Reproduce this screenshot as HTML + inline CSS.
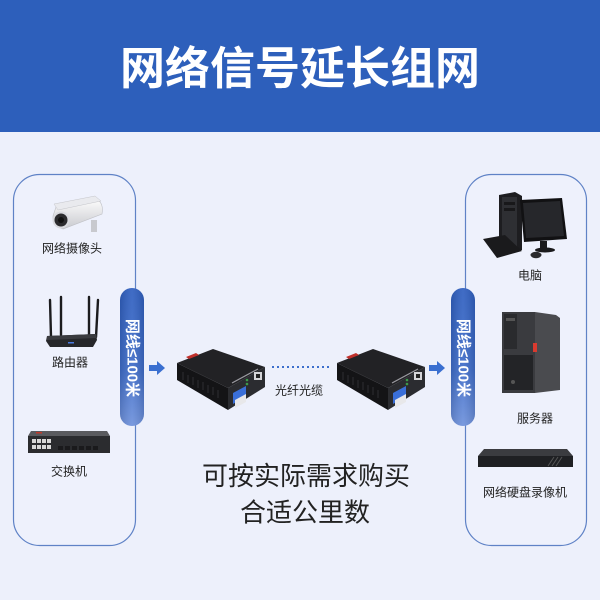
<!DOCTYPE html>
<html><head><meta charset="utf-8"><style>
html,body{margin:0;padding:0;background:#edf0fb;}
svg{display:block;}
text{font-family:"Liberation Sans","Noto Sans CJK SC",sans-serif;}
</style></head><body>
<svg width="600" height="600" viewBox="0 0 600 600" xmlns="http://www.w3.org/2000/svg">
<defs>
<linearGradient id="pill" x1="0" y1="0" x2="0" y2="1">
<stop offset="0" stop-color="#2f5fc0"/><stop offset="0.6" stop-color="#3f6dc9"/><stop offset="1" stop-color="#6f92dc"/>
</linearGradient>
<linearGradient id="pillh" x1="0" y1="0" x2="1" y2="0">
<stop offset="0" stop-color="#000" stop-opacity="0.12"/><stop offset="0.5" stop-color="#fff" stop-opacity="0.08"/><stop offset="1" stop-color="#000" stop-opacity="0.12"/>
</linearGradient>
<linearGradient id="cam" x1="0" y1="0" x2="0" y2="1">
<stop offset="0" stop-color="#fdfdfd"/><stop offset="1" stop-color="#c9cacf"/>
</linearGradient>
</defs>
<rect x="0" y="0" width="600" height="600" fill="#edf0fb"/>
<rect x="0" y="0" width="600" height="132" fill="#2d5fbb"/>
<text x="300" y="84" font-size="45" font-weight="bold" fill="#fff" text-anchor="middle">网络信号延长组网</text>

<!-- boxes -->
<rect x="13.5" y="174.5" width="122" height="371" rx="26" fill="#eef1fc" stroke="#5f82c6" stroke-width="1.2"/>
<rect x="465.5" y="174.5" width="121" height="371" rx="26" fill="#eef1fc" stroke="#5f82c6" stroke-width="1.2"/>

<!-- pills -->
<rect x="120" y="288" width="24" height="138" rx="12" fill="url(#pill)"/>
<rect x="120" y="288" width="24" height="138" rx="12" fill="url(#pillh)"/>
<text transform="translate(132 358) rotate(90)" font-size="15" font-weight="bold" fill="#fff" text-anchor="middle" dominant-baseline="central">网线≤100米</text>
<rect x="451" y="288" width="24" height="138" rx="12" fill="url(#pill)"/>
<rect x="451" y="288" width="24" height="138" rx="12" fill="url(#pillh)"/>
<text transform="translate(463 358) rotate(90)" font-size="15" font-weight="bold" fill="#fff" text-anchor="middle" dominant-baseline="central">网线≤100米</text>

<!-- arrows -->
<rect x="149" y="365" width="9" height="6" fill="#3a6fd0"/>
<polygon points="157,361 165,368 157,375" fill="#3a6fd0"/>
<rect x="429" y="365" width="9" height="6" fill="#3a6fd0"/>
<polygon points="437,361 445,368 437,375" fill="#3a6fd0"/>

<!-- camera -->
<path d="M56,207 L97,199 Q104,204 102,214 L63,229 Q52,226 53,216 Z" fill="url(#cam)" stroke="#bfc0c5" stroke-width="0.6"/>
<path d="M54,204 L95,196 L101,201 L58,210 Z" fill="#e9eaee" stroke="#c4c5ca" stroke-width="0.5"/>
<rect x="91" y="220" width="6" height="12" fill="#c8c9ce"/>
<circle cx="61" cy="220" r="8.5" fill="#d9dadf"/>
<circle cx="61" cy="220" r="6.5" fill="#2b2b2e"/>
<circle cx="61" cy="220" r="3" fill="#111"/>
<text x="72" y="252.5" font-size="12" fill="#222" text-anchor="middle">网络摄像头</text>

<!-- router -->
<g stroke="#1c1c1e" stroke-width="2.4" stroke-linecap="round">
<line x1="50" y1="300" x2="51" y2="337"/>
<line x1="61" y1="297" x2="61" y2="335"/>
<line x1="89" y1="297" x2="89" y2="335"/>
<line x1="98" y1="300" x2="96" y2="337"/>
</g>
<path d="M47,336 L96,334 L97,340 L93,347 L50,347 L46,341 Z" fill="#26272a"/>
<path d="M47,336 L96,334 L97,338 L47,340 Z" fill="#3a3b3f"/>
<rect x="68" y="342" width="6" height="1.5" fill="#4a7be0"/>
<text x="70" y="366.5" font-size="12" fill="#222" text-anchor="middle">路由器</text>

<!-- switch -->
<polygon points="31,431 107,431 110,436 28,436" fill="#5a5b5f"/>
<rect x="28" y="436" width="82" height="17" fill="#2b2c2f"/>
<rect x="36" y="432" width="6" height="1.5" fill="#c0392b"/>
<g fill="#d8d8d8">
<rect x="32" y="439" width="4" height="4"/><rect x="37" y="439" width="4" height="4"/><rect x="42" y="439" width="4" height="4"/><rect x="47" y="439" width="4" height="4"/>
<rect x="32" y="445" width="4" height="4"/><rect x="37" y="445" width="4" height="4"/><rect x="42" y="445" width="4" height="4"/><rect x="47" y="445" width="4" height="4"/>
</g>
<g fill="#1a1a1c">
<rect x="58" y="446" width="5" height="4"/><rect x="65" y="446" width="5" height="4"/><rect x="72" y="446" width="5" height="4"/><rect x="79" y="446" width="5" height="4"/><rect x="86" y="446" width="5" height="4"/><rect x="93" y="446" width="5" height="4"/>
</g>
<text x="69" y="475.5" font-size="12" fill="#222" text-anchor="middle">交换机</text>

<!-- converters -->
<g id="conv">
<polygon points="177,363 213,349 265,367 228,388" fill="#222225"/>
<polygon points="177,363 228,388 228,410 177,380" fill="#141416"/>
<polygon points="228,388 265,367 265,387 228,410" fill="#2b2c30"/>
<polygon points="186,357 196,353 199,355 189,359" fill="#c0302b"/>
<g stroke="#2e2e32" stroke-width="1">
<line x1="183" y1="372" x2="183" y2="380"/><line x1="188" y1="375" x2="188" y2="383"/><line x1="193" y1="377" x2="193" y2="385"/><line x1="198" y1="380" x2="198" y2="388"/><line x1="203" y1="382" x2="203" y2="390"/><line x1="208" y1="385" x2="208" y2="393"/><line x1="213" y1="387" x2="213" y2="395"/><line x1="218" y1="390" x2="218" y2="398"/>
</g>
<polygon points="233,393 246,386 246,396 233,404" fill="#3a6fd8"/>
<polygon points="235,400 246,394 246,402 235,408" fill="#e8e8ea"/>
<rect x="254" y="372" width="8" height="8" fill="#d5d5d8"/>
<rect x="256" y="374" width="4" height="4" fill="#222"/>
<circle cx="247" cy="380" r="1.3" fill="#3c9a4a"/><circle cx="247" cy="384" r="1.3" fill="#3c9a4a"/>
<line x1="232" y1="383" x2="258" y2="369" stroke="#9a9aa0" stroke-width="1.2"/>
</g>
<use href="#conv" x="160" y="0"/>

<!-- fiber dotted -->
<line x1="272" y1="367" x2="329" y2="367" stroke="#3d6fcc" stroke-width="2" stroke-dasharray="2 3"/>
<text x="299" y="394.5" font-size="12" fill="#222" text-anchor="middle">光纤光缆</text>

<!-- bottom text -->
<text x="306" y="485" font-size="26" fill="#222" text-anchor="middle">可按实际需求购买</text>
<text x="305" y="521.5" font-size="26" fill="#222" text-anchor="middle">合适公里数</text>

<!-- computer -->
<polygon points="499,195 515,192 522,196 522,250 499,250" fill="#1d1d20"/>
<rect x="502" y="197" width="15" height="52" fill="#2e2f33"/>
<rect x="504" y="202" width="11" height="3" fill="#18181a"/>
<rect x="504" y="208" width="11" height="3" fill="#18181a"/>
<polygon points="520,200 562,198 567,239 524,242" fill="#111113"/>
<polygon points="523,203 560,201 564,236 526,238" fill="#26272b"/>
<rect x="540" y="241" width="7" height="7" fill="#1a1a1c"/>
<ellipse cx="545" cy="250" rx="10" ry="2.5" fill="#1a1a1c"/>
<polygon points="483,239 505,235 522,251 497,258" fill="#1a1a1c"/>
<ellipse cx="536" cy="255" rx="5.5" ry="3.2" fill="#2a2a2d"/>
<text x="530" y="279.5" font-size="12" fill="#222" text-anchor="middle">电脑</text>

<!-- server -->
<polygon points="535,312 556,315 560,318 560,390 535,393" fill="#4a4b4f"/>
<rect x="502" y="312" width="33" height="81" fill="#3a3b3f"/>
<rect x="504" y="314" width="13" height="35" fill="#2a2b2e"/>
<rect x="506" y="318" width="9" height="3" fill="#555"/>
<rect x="533" y="343" width="4" height="9" fill="#d93a2f"/>
<rect x="504" y="355" width="29" height="35" fill="#232427"/>
<circle cx="513" cy="382" r="2" fill="#555"/>
<text x="535" y="422.5" font-size="12" fill="#222" text-anchor="middle">服务器</text>

<!-- NVR -->
<polygon points="484,449 567,449 573,456 478,456" fill="#3b3c40"/>
<rect x="478" y="456" width="95" height="11" fill="#1f2023"/>
<g stroke="#555" stroke-width="1">
<line x1="548" y1="466" x2="554" y2="457"/><line x1="552" y1="466" x2="558" y2="457"/><line x1="556" y1="466" x2="562" y2="457"/>
</g>
<text x="525" y="496.5" font-size="12" fill="#222" text-anchor="middle">网络硬盘录像机</text>
</svg>
</body></html>
